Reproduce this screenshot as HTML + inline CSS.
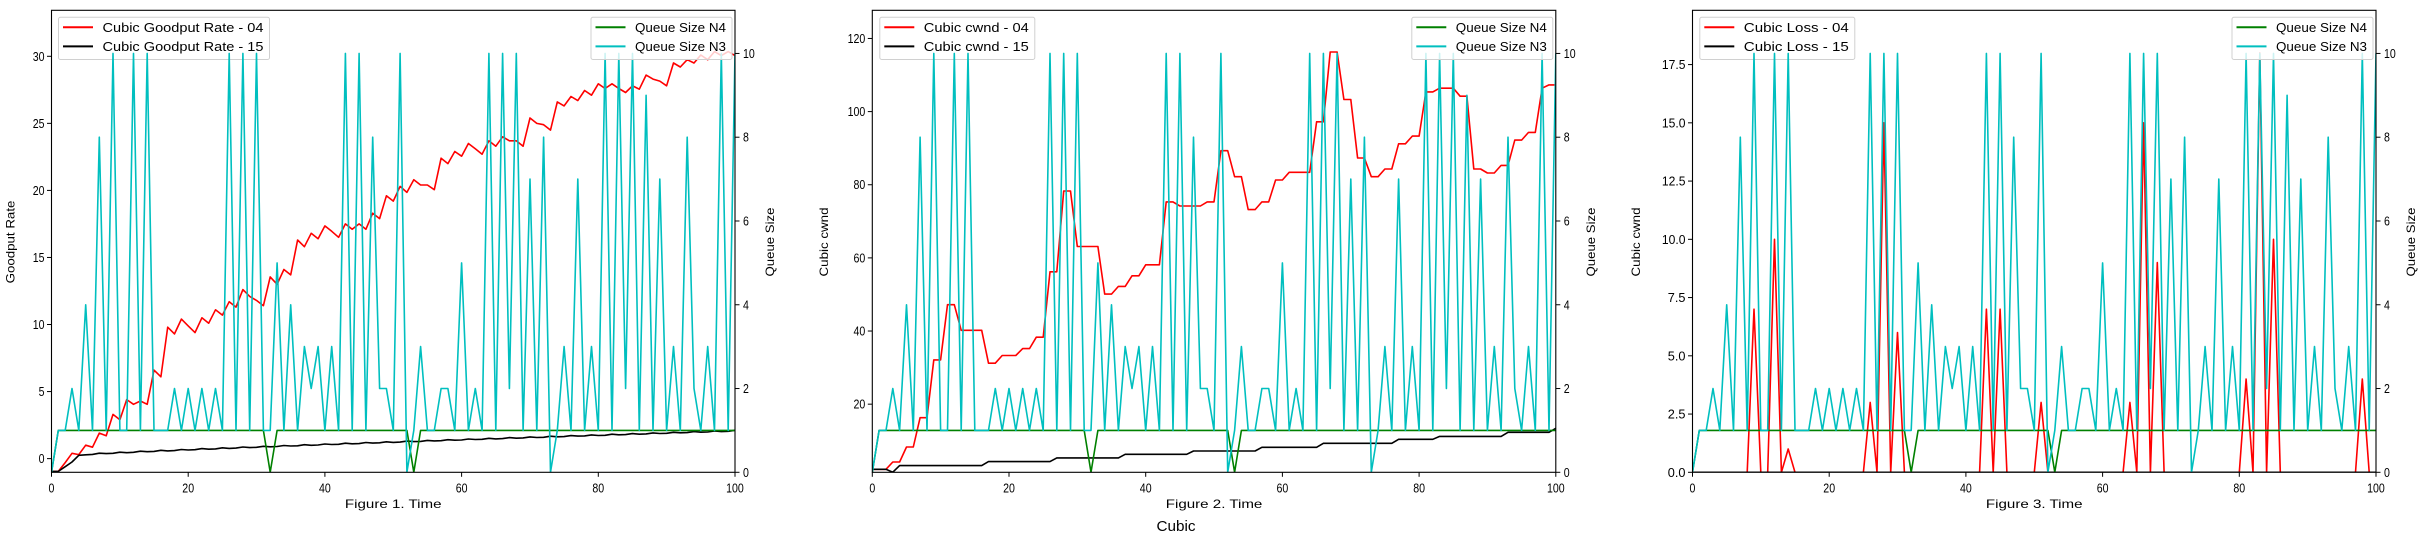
<!DOCTYPE html>
<html><head><meta charset="utf-8">
<style>html,body{margin:0;padding:0;background:#fff;}svg{display:block;}</style>
</head><body>
<svg id="s" xmlns="http://www.w3.org/2000/svg" width="2427" height="542" viewBox="0 0 2427 542"></svg>
<script>
var NS="http://www.w3.org/2000/svg",S=document.getElementById('s');
function el(t,a,p){var e=document.createElementNS(NS,t);for(var k in a)e.setAttribute(k,a[k]);(p||S).appendChild(e);return e;}
function txt(x,y,s,o){o=o||{};var a={x:x,y:y,'font-family':o.ff||'"Liberation Sans",sans-serif','font-size':o.fs||12,fill:'#000','text-anchor':o.anchor||'start'};
 if(o.cw){a.textLength=s.length*o.cw;a.lengthAdjust='spacingAndGlyphs';}
 if(o.rot)a.transform='rotate(-90 '+x+' '+y+')';var e=el('text',a);e.textContent=s;return e;}
var N3=[0,1,1,2,1,4,1,8,1,10,1,1,10,1,10,1,1,1,2,1,2,1,2,1,2,1,10,1,10,1,10,1,1,5,1,4,1,3,2,3,1,3,1,10,1,10,1,8,2,2,1,10,0,1,3,1,1,2,2,1,5,1,2,1,10,1,10,2,10,1,7,1,8,0,1,3,1,7,1,3,1,10,1,10,2,10,1,9,1,7,1,3,1,8,2,1,3,1,10,1,10];
var N4=[];for(var i=0;i<=100;i++)N4.push(i==0||i==32||i==53?0:1);
var G04=[-0.95,-0.95,-0.3,0.4,0.3,1,0.85,1.9,1.7,3.3,2.9,4.4,4.05,4.3,4.05,6.6,6.1,9.8,9.3,10.4,9.9,9.4,10.5,10.1,11.1,10.7,11.7,11.3,12.6,12.1,11.8,11.4,13.55,13.0,14.1,13.7,16.3,15.8,16.8,16.4,17.35,16.95,16.5,17.5,17.1,17.5,17.1,18.3,17.9,19.6,19.2,20.3,19.85,20.8,20.4,20.4,20.05,22.4,22.0,22.9,22.55,23.5,23.1,22.7,23.7,23.3,24.0,23.7,23.7,23.3,25.4,25.0,24.9,24.5,26.6,26.3,27.0,26.7,27.45,27.1,27.95,27.6,27.95,27.6,27.3,27.8,27.55,28.6,28.3,28.15,27.8,29.5,29.2,29.75,29.5,30.1,29.75,30.35,30.05,30.35,30.05];
var G15=[];for(i=0;i<=100;i++){var v;if(i<2)v=-0.95;else if(i<4)v=-0.95+(i-1)*0.35;else v=0.25+1.8*Math.pow((i-4)/96,0.85);v+= (i>4&&i%3==1)?0.06:0;G15.push(v);}
var C04=[2.2,2.2,2.2,4.2,4.2,8.3,8.3,16.3,16.3,32.1,32.1,47.2,47.2,40.2,40.2,40.2,40.2,31.2,31.2,33.3,33.3,33.3,35.2,35.2,38.3,38.3,56.2,56.2,78.3,78.3,63.1,63.1,63.1,63.1,50.1,50.1,52.2,52.2,55.1,55.1,58.1,58.1,58.1,75.3,75.3,74.2,74.2,74.2,74.2,75.3,75.3,89.3,89.3,82.2,82.2,73.2,73.2,75.3,75.3,81.3,81.3,83.4,83.4,83.4,83.4,97.2,97.2,116.3,116.3,103.3,103.3,87.3,87.3,82.2,82.2,84.3,84.3,91.2,91.2,93.3,93.3,105.4,105.4,106.4,106.4,106.4,104.2,104.2,84.3,84.3,83.2,83.2,85.3,85.3,92.2,92.2,94.3,94.3,106.4,107.3,107.3];
var C15=[];for(i=0;i<=100;i++){var c;if(i<=2)c=2.2;else if(i==3)c=1.4;else if(i<17)c=3.2;else if(i<27)c=4.3;else if(i<37)c=5.3;else if(i<47)c=6.3;else if(i<57)c=7.2;else if(i<66)c=8.2;else if(i<75)c=9.3;else if(i<77)c=9.3;else if(i<83)c=10.4;else if(i<93)c=11.2;else if(i<100)c=12.3;else c=13.4;C15.push(c);}
var L04=[];for(i=0;i<=100;i++)L04.push(0);
[[9,7],[12,10],[14,1],[26,3],[28,15],[30,6],[43,7],[45,7],[51,3],[64,3],[66,15],[68,9],[81,4],[83,18],[85,10],[98,4]].forEach(function(p){L04[p[0]]=p[1];});
var Z=[];for(i=0;i<=100;i++)Z.push(0);
var T=10.3,B=472.3,W=683.5;
function panel(o){
 var L=o.L,R=L+W;
 var cid='c'+Math.round(L);var cp=el('clipPath',{id:cid});el('rect',{x:L,y:T,width:W,height:B-T},cp);
 function X(t){return L+t/100*W;}
 function Y1(v){return B-(v-o.y0)/(o.y1-o.y0)*(B-T);}
 function Y2(v){return B-v/11.03*(B-T);}
 function line(d,f,col){var pts=d.map(function(v,i){return X(i).toFixed(1)+','+f(v).toFixed(1);}).join(' ');el('polyline',{points:pts,fill:'none',stroke:col,'stroke-width':1.6,'stroke-linejoin':'round','clip-path':'url(#'+cid+')'});}
 line(o.red,Y1,'#ff0000');line(o.blk,Y1,'#000000');
 // left legend
 legend(o.lx,o.ll,['#ff0000','#000000']);
 line(N4,Y2,'#008000');line(N3,Y2,'#00bfbf');
 legend(R-3-(44+13*7+6),['Queue Size N4','Queue Size N3'],['#008000','#00bfbf']);
 el('rect',{x:L,y:T,width:W,height:B-T,fill:'none',stroke:'#000','stroke-width':1.1});
 for(var t=0;t<=100;t+=20){el('line',{x1:X(t),y1:B,x2:X(t),y2:B+4.5,stroke:'#000','stroke-width':1});txt(X(t),B+20,''+t,{anchor:'middle',fs:13,cw:5.9});}
 o.ticks.forEach(function(v){var y=Y1(v);el('line',{x1:L-4.5,y1:y,x2:L,y2:y,stroke:'#000','stroke-width':1});txt(L-7,y+4.5,o.fmt(v),{anchor:'end',fs:13,cw:5.9});});
 for(var q=0;q<=10;q+=2){var y=Y2(q);el('line',{x1:R,y1:y,x2:R+4.5,y2:y,stroke:'#000','stroke-width':1});txt(R+8,y+4.5,''+q,{fs:13,cw:5.9});}
 txt(L+W/2,508,o.xl,{anchor:'middle',fs:12,cw:6.9});
 txt(o.ylx+4,242,o.yl,{anchor:'middle',fs:12,cw:6.9,rot:1});
 txt(R+39,242,'Queue Size',{anchor:'middle',fs:12,cw:6.9,rot:1});
 function legend(bx,labels,cols){var w=44+Math.max(labels[0].length,labels[1].length)*7+6;
  el('rect',{x:bx,y:17.3,width:w,height:42.2,rx:2,fill:'#fff','fill-opacity':0.8,stroke:'#d0d0d0','stroke-width':1});
  for(var k=0;k<2;k++){var yy=27.3+k*19.1;el('line',{x1:bx+4.5,y1:yy,x2:bx+34.5,y2:yy,stroke:cols[k],'stroke-width':2});txt(bx+44,yy+4.5,labels[k],{fs:13,cw:7});}}
}
panel({L:51.5,y0:-1.02,y1:33.43,red:G04,blk:G15,ticks:[0,5,10,15,20,25,30],fmt:function(v){return ''+v;},lx:58.5,ll:['Cubic Goodput Rate - 04','Cubic Goodput Rate - 15'],xl:'Figure 1. Time',yl:'Goodput Rate',ylx:10.5});
panel({L:872.3,y0:1.37,y1:127.7,red:C04,blk:C15,ticks:[20,40,60,80,100,120],fmt:function(v){return ''+v;},lx:879.8,ll:['Cubic cwnd - 04','Cubic cwnd - 15'],xl:'Figure 2. Time',yl:'Cubic cwnd',ylx:824});
panel({L:1692.5,y0:0,y1:19.83,red:L04,blk:Z,ticks:[0,2.5,5,7.5,10,12.5,15,17.5],fmt:function(v){return v.toFixed(1);},lx:1699.8,ll:['Cubic Loss - 04','Cubic Loss - 15'],xl:'Figure 3. Time',yl:'Cubic cwnd',ylx:1636});
txt(1176,531,'Cubic',{anchor:'middle',fs:15,cw:7.8});
</script>
</body></html>
